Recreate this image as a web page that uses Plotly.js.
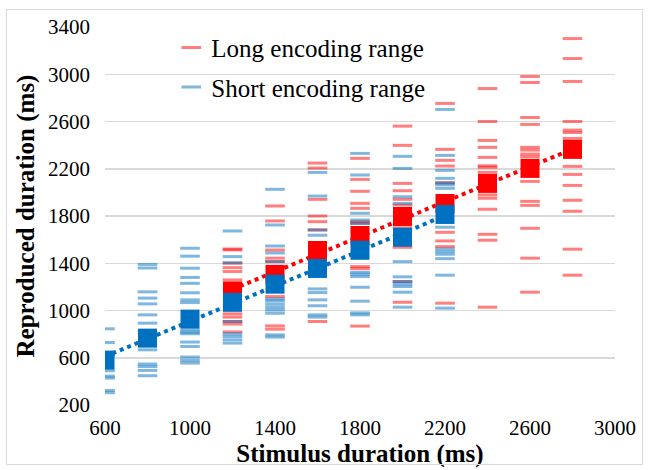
<!DOCTYPE html>
<html>
<head>
<meta charset="utf-8">
<script src="https://cdn.plot.ly/plotly-3.0.1.min.js"></script>
<style>
  html, body { margin: 0; padding: 0; background: #fff; }
  #wrap { position: relative; width: 649px; height: 470px; }
  #chart { position: absolute; left: 0; top: 0; width: 649px; height: 470px; }
  #frame { position: absolute; left: 6px; top: 9px; width: 635px; height: 454px; border: 1.5px solid #d9d9d9; pointer-events: none; }
</style>
</head>
<body>
<div id="wrap"><div id="chart"></div><div id="frame"></div></div>
<script>
// ---- Data ----
const longDurations  = [1200, 1400, 1600, 1800, 2000, 2200, 2400, 2600, 2800];
const longMeans      = [1165, 1306, 1508, 1635, 1796, 1906, 2076, 2203, 2364];
const shortDurations = [600, 800, 1000, 1200, 1400, 1600, 1800, 2000, 2200];
const shortMeans     = [580, 766, 927, 1069, 1223, 1356, 1510, 1620, 1813];

// individual reproductions, long encoding range
const long1200 = [1521, 1513, 1400, 1363, 1330, 1259, 972, 944, 907, 885, 819];
const long1400 = [1885, 1758, 1512, 1443, 1414, 1118, 870, 842];
const long1600 = [2248, 2206, 1941, 1800, 1752, 1682, 907];
const long1800 = [2288, 2110, 2009, 1907, 1865, 1752, 1738, 1372, 1355, 868];
const long2000 = [2561, 2398, 2076, 2014, 1941, 1893, 1700, 1535, 1245, 1070];
const long2200 = [2753, 2364, 2271, 2223, 2081, 1662, 1589, 1541, 1062];
const long2400 = [2879, 2600, 2440, 2381, 2296, 2225, 2212, 2170, 1978, 1950, 1857, 1645, 1595, 1028];
const long2600 = [2981, 2930, 2634, 2575, 2381, 2358, 2324, 2301, 2093, 1924, 1890, 1696, 1443, 1155];
const long2800 = [3302, 3133, 2939, 2600, 2527, 2507, 2457, 2220, 2152, 2059, 1933, 1840, 1519, 1299];

// individual reproductions, short encoding range
const short600  = [845, 729, 620, 490, 445, 428, 323, 304];
const short800  = [1390, 1360, 1158, 1105, 1056, 963, 893, 817, 667, 547, 526, 493, 448];
const short1000 = [1527, 1460, 1358, 1280, 1230, 1150, 1090, 1067, 836, 817, 803, 733, 695, 606, 577, 555];
const short1200 = [1673, 1456, 1405, 907, 803, 780, 752, 724];
const short1400 = [2026, 1724, 1546, 1487, 1414, 1098, 1081, 1054, 1028, 1005, 977, 794, 775];
const short1600 = [2169, 1969, 1682, 1637, 1183, 1152, 1090, 1040, 963, 944];
const short1800 = [2330, 2147, 1823, 1766, 1738, 1324, 1307, 1287, 1197, 1079, 980, 963];
const short2000 = [2305, 2203, 1963, 1907, 1414, 1285, 1245, 1225, 1203, 1155, 1028];
const short2200 = [2702, 2313, 2186, 2119, 2081, 2064, 2034, 1705, 1521, 1498, 1476, 1439, 1299, 1020];

const xTickVals = [600, 1000, 1400, 1800, 2200, 2600, 3000];
const yTickVals = [200, 600, 1000, 1400, 1800, 2200, 2600, 3000, 3400];

// ---- helpers ----
function flatten(durations, groups) {
  const xs = [], ys = [];
  durations.forEach((d, i) => groups[i].forEach(v => { xs.push(d); ys.push(v); }));
  return { x: xs, y: ys };
}
function linfit(xs, ys) {
  const n = xs.length;
  const mx = xs.reduce((a, b) => a + b, 0) / n;
  const my = ys.reduce((a, b) => a + b, 0) / n;
  let sxy = 0, sxx = 0;
  for (let i = 0; i < n; i++) { sxy += (xs[i] - mx) * (ys[i] - my); sxx += (xs[i] - mx) ** 2; }
  const b = sxy / sxx, a = my - b * mx;
  return xs.map(x => a + b * x);
}

const longPts = flatten(longDurations, [long1200, long1400, long1600, long1800, long2000, long2200, long2400, long2600, long2800]);
const shortPts = flatten(shortDurations, [short600, short800, short1000, short1200, short1400, short1600, short1800, short2000, short2200]);

const RED = '#FF0000', BLUE = '#0070C0';
const RED_T = 'rgba(255,0,0,0.5)', BLUE_T = 'rgba(0,112,192,0.5)';

const traces = [
  { x: longPts.x, y: longPts.y, type: 'scatter', mode: 'markers', name: 'Long encoding range',
    legendgroup: 'a',
    marker: { symbol: 'line-ew', size: 14, color: RED_T, line: { color: RED_T, width: 3 } } },
  { x: shortPts.x, y: shortPts.y, type: 'scatter', mode: 'markers', name: 'Short encoding range',
    legendgroup: 'b',
    marker: { symbol: 'line-ew', size: 14, color: BLUE_T, line: { color: BLUE_T, width: 3 } } },
  { x: longDurations, y: linfit(longDurations, longMeans), type: 'scatter', mode: 'lines', showlegend: false,
    line: { color: RED, width: 4, dash: 'dot' } },
  { x: shortDurations, y: linfit(shortDurations, shortMeans), type: 'scatter', mode: 'lines', showlegend: false,
    line: { color: BLUE, width: 4, dash: 'dot' } },
  { x: longDurations, y: longMeans, type: 'scatter', mode: 'markers', showlegend: false,
    marker: { symbol: 'square', size: 19, color: RED, line: { width: 0 } } },
  { x: shortDurations, y: shortMeans, type: 'scatter', mode: 'markers', showlegend: false,
    marker: { symbol: 'square', size: 19, color: BLUE, line: { width: 0 } } }
];

const FONT = 'Liberation Serif, Times New Roman, serif';

const layout = {
  width: 649, height: 470,
  margin: { l: 105, r: 34, t: 27, b: 65, pad: 0 },
  paper_bgcolor: 'rgba(0,0,0,0)', plot_bgcolor: 'rgba(0,0,0,0)',
  font: { family: FONT, color: '#000', size: 21 },
  showlegend: true,
  legend: {
    x: 0.13, y: 1.006, xanchor: 'left', yanchor: 'top',
    bgcolor: 'rgba(0,0,0,0)', borderwidth: 0,
    font: { family: FONT, size: 25, color: '#000' },
    traceorder: 'grouped', tracegroupgap: 4
  },
  xaxis: {
    range: [600, 3000], tickvals: xTickVals, ticktext: xTickVals.map(String),
    showgrid: false, zeroline: false, showline: false, ticks: '',
    ticklabelstandoff: 8,
    tickfont: { family: FONT, size: 21, color: '#000' },
    title: { text: '<b>Stimulus duration (ms)</b>', font: { family: FONT, size: 25, color: '#000' }, standoff: 4 }
  },
  yaxis: {
    range: [200, 3400], tickvals: yTickVals, ticktext: yTickVals.map(String),
    showgrid: true, gridcolor: '#d9d9d9', gridwidth: 1.5,
    zeroline: false, showline: false, ticks: '',
    ticklabelstandoff: 14,
    tickfont: { family: FONT, size: 21, color: '#000' },
    title: { text: '<b>Reproduced duration (ms)</b>', font: { family: FONT, size: 25, color: '#000' }, standoff: 6 }
  }
};

Plotly.newPlot('chart', traces, layout, { staticPlot: true, displayModeBar: false });
</script>
</body>
</html>
